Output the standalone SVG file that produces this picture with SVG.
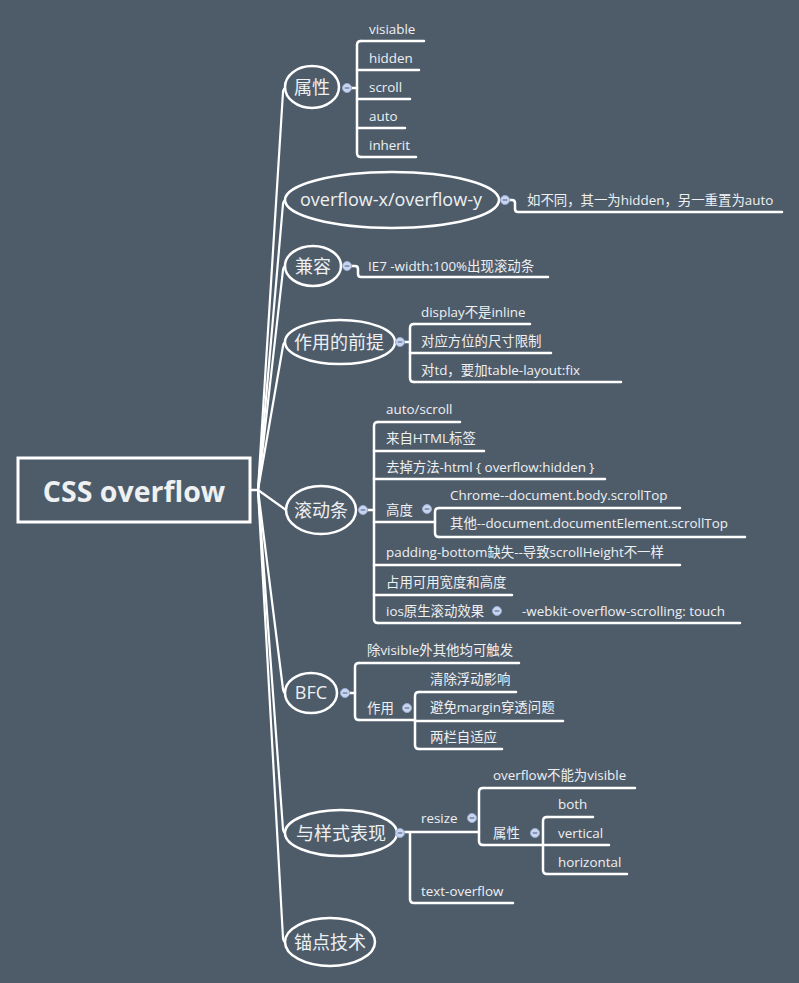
<svg xmlns="http://www.w3.org/2000/svg" width="799" height="983" viewBox="0 0 799 983">
<defs>
<style>
.bg{fill:#4e5c6a}
.ln{fill:none;stroke:#fff;stroke-width:2.5;stroke-linecap:round;stroke-linejoin:round}
.br{fill:none;stroke:#fff;stroke-width:2.2;stroke-linecap:round}
.nd{fill:#4e5c6a;stroke:#fff;stroke-width:2.5}
.t{font-family:"Open Sans","Noto Sans CJK SC",sans-serif;fill:#eef0f2;font-size:13.4px}
.bt{font-family:"Open Sans","Noto Sans CJK SC",sans-serif;fill:#eef0f2;font-size:18px;text-anchor:middle}
.ic{fill:#c9d5ee;stroke:#98acd4;stroke-width:1}
.im{stroke:#5f7090;stroke-width:1.2}
</style>
<g id="icon"><circle class="ic" cx="0" cy="0" r="4.5"/><line class="im" x1="-2.3" y1="0" x2="2.3" y2="0"/></g>
</defs>
<rect class="bg" x="0" y="0" width="799" height="983"/>

<g id="connectors">
<line class="ln" x1="250" y1="490" x2="258" y2="490"/>
<path class="br" d="M258,490 L283,92 Q283.5,88 286,88"/>
<path class="br" d="M258,490 L283,204 Q283.5,200 286,200"/>
<path class="br" d="M258,490 L283,270 Q283.5,266 286,266"/>
<path class="br" d="M258,490 L283,346 Q283.5,342 286,342"/>
<path class="br" d="M258,490 L286,510"/>
<path class="br" d="M258,490 L283,689 Q283.5,693 286,693"/>
<path class="br" d="M258,490 L283,829 Q283.5,833 286,833"/>
<path class="br" d="M258,490 L283,938 Q283.5,942 286,942"/>

<path class="ln" d="M351,88 L357,88"/>
<path class="ln" d="M361,41 Q357,41 357,45 L357,153 Q357,157 361,157"/>
<path class="ln" d="M361,41 L424,41 M357,70 L419,70 M357,99 L410,99 M357,128 L405,128 M361,157 L416,157"/>

<path class="ln" d="M509,200 L512,200 Q515,200 515,203 L515,209 Q515,212 518,212 L782,212"/>

<path class="ln" d="M351,266 L355,266 Q358,266 358,269 L358,274 Q358,277 361,277 L548,277"/>

<path class="ln" d="M404,342 L410,342"/>
<path class="ln" d="M414,324 Q410,324 410,328 L410,378 Q410,382 414,382"/>
<path class="ln" d="M414,324 L530,324 M410,353 L551,353 M414,382 L621,382"/>

<path class="ln" d="M367,510 L374,510"/>
<path class="ln" d="M378,422 Q374,422 374,426 L374,619 Q374,623 378,623"/>
<path class="ln" d="M378,422 L460,422 M374,451 L484,451 M374,479 L605,479 M374,522 L435,522 M374,565 L680,565 M374,595 L512,595 M378,623 L740,623"/>
<path class="ln" d="M439,508 Q435,508 435,512 L435,533 Q435,537 439,537"/>
<path class="ln" d="M439,508 L680,508 M439,537 L745,537"/>

<path class="ln" d="M349,693 L355,693"/>
<path class="ln" d="M359,663 Q355,663 355,667 L355,716 Q355,720 359,720"/>
<path class="ln" d="M359,663 L519,663 M359,720 L415,720"/>
<path class="ln" d="M419,692 Q415,692 415,696 L415,745 Q415,749 419,749"/>
<path class="ln" d="M419,692 L516,692 M415,721 L563,721 M419,749 L502,749"/>

<path class="ln" d="M404,832 L479,832 M410,832 L410,899 Q410,903 414,903 L513,903"/>
<path class="ln" d="M483,788 Q479,788 479,792 L479,841 Q479,845 483,845"/>
<path class="ln" d="M483,788 L635,788 M483,845 L543,845"/>
<path class="ln" d="M547,817 Q543,817 543,821 L543,870 Q543,874 547,874"/>
<path class="ln" d="M547,817 L593,817 M543,845 L609,845 M547,874 L627,874"/>
</g>

<g id="root">
<rect x="18" y="458" width="232" height="64" fill="#4e5c6a" stroke="#fff" stroke-width="3"/>
<text x="134" y="502" style="font-family:'Open Sans','Noto Sans CJK SC',sans-serif;font-weight:bold;font-size:28.5px;fill:#eef0f2;text-anchor:middle">CSS overflow</text>
</g>

<g id="n-shuxing">
<ellipse class="nd" cx="312" cy="87" rx="27" ry="21"/>
<text class="bt" x="312" y="94">属性</text>
<use href="#icon" x="347" y="88"/>
</g>
<g id="n-shuxing-children">
<text class="t" x="369" y="34">visiable</text>
<text class="t" x="369" y="63">hidden</text>
<text class="t" x="369" y="92">scroll</text>
<text class="t" x="369" y="121">auto</text>
<text class="t" x="369" y="150">inherit</text>
</g>

<g id="n-overflowxy">
<ellipse class="nd" cx="392" cy="200" rx="107" ry="28"/>
<text class="bt" x="391" y="206">overflow-x/overflow-y</text>
<use href="#icon" x="505" y="200"/>
<text class="t" x="527" y="205">如不同，其一为hidden，另一重置为auto</text>
</g>

<g id="n-jianrong">
<ellipse class="nd" cx="313" cy="266" rx="28" ry="20"/>
<text class="bt" x="313" y="273">兼容</text>
<use href="#icon" x="347" y="266"/>
<text class="t" x="368" y="271">IE7 -width:100%出现滚动条</text>
</g>

<g id="n-qianti">
<ellipse class="nd" cx="340" cy="342" rx="55" ry="22"/>
<text class="bt" x="339" y="349">作用的前提</text>
<use href="#icon" x="400" y="342"/>
<text class="t" x="421" y="317">display不是inline</text>
<text class="t" x="421" y="346">对应方位的尺寸限制</text>
<text class="t" x="421" y="375">对td，要加table-layout:fix</text>
</g>

<g id="n-gundongtiao">
<ellipse class="nd" cx="321" cy="510" rx="35" ry="24"/>
<text class="bt" x="321" y="517">滚动条</text>
<use href="#icon" x="363" y="510"/>
<text class="t" x="386" y="414">auto/scroll</text>
<text class="t" x="386" y="443">来自HTML标签</text>
<text class="t" x="386" y="472">去掉方法-html { overflow:hidden }</text>
<text class="t" x="386" y="515">高度</text>
<use href="#icon" x="427" y="509"/>
<text class="t" x="450" y="500">Chrome--document.body.scrollTop</text>
<text class="t" x="450" y="528">其他--document.documentElement.scrollTop</text>
<text class="t" x="386" y="557">padding-bottom缺失--导致scrollHeight不一样</text>
<text class="t" x="386" y="587">占用可用宽度和高度</text>
<text class="t" x="386" y="616">ios原生滚动效果</text>
<use href="#icon" x="497" y="611"/>
<text class="t" x="522" y="616">-webkit-overflow-scrolling: touch</text>
</g>

<g id="n-bfc">
<ellipse class="nd" cx="311" cy="693" rx="26" ry="20"/>
<text class="bt" x="311" y="699">BFC</text>
<use href="#icon" x="345" y="693"/>
<text class="t" x="367" y="655">除visible外其他均可触发</text>
<text class="t" x="367" y="713">作用</text>
<use href="#icon" x="407" y="708"/>
<text class="t" x="430" y="684">清除浮动影响</text>
<text class="t" x="430" y="712">避免margin穿透问题</text>
<text class="t" x="430" y="742">两栏自适应</text>
</g>

<g id="n-yangshi">
<ellipse class="nd" cx="341" cy="833" rx="56" ry="23"/>
<text class="bt" x="341" y="840">与样式表现</text>
<use href="#icon" x="400" y="833"/>
<text class="t" x="421" y="823">resize</text>
<use href="#icon" x="472" y="818"/>
<text class="t" x="493" y="780">overflow不能为visible</text>
<text class="t" x="493" y="838">属性</text>
<use href="#icon" x="535" y="833"/>
<text class="t" x="558" y="809">both</text>
<text class="t" x="558" y="838">vertical</text>
<text class="t" x="558" y="867">horizontal</text>
<text class="t" x="421" y="896">text-overflow</text>
</g>

<g id="n-maodian">
<ellipse class="nd" cx="330" cy="942" rx="45" ry="24"/>
<text class="bt" x="330" y="949">锚点技术</text>
</g>
</svg>
